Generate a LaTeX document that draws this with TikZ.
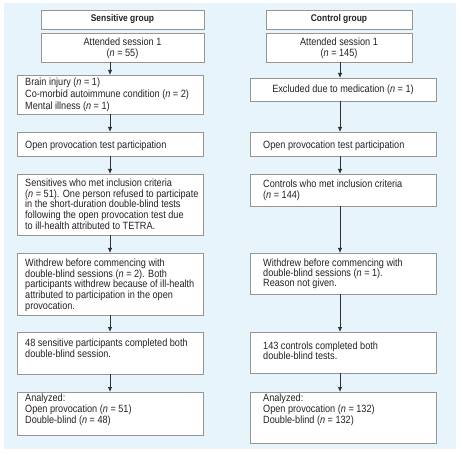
\documentclass[tikz,border=0pt]{standalone}
\usepackage{fontspec}
\setmainfont{Liberation Sans}[FakeStretch=0.87]
\usetikzlibrary{arrows.meta}
\definecolor{bgblue}{RGB}{231,244,252}
\definecolor{boxgray}{RGB}{150,150,150}
\definecolor{txtcol}{RGB}{35,35,35}
\definecolor{arrgray}{RGB}{50,50,50}
\newcommand\mystrut{\rule{0pt}{8pt}}
\begin{document}
\begin{tikzpicture}[x=1pt,y=-1pt,
  box/.style={draw=boxgray, line width=0.9pt, fill=white, anchor=north west, inner sep=0pt, outer sep=0pt},
  txtl/.style={anchor=north west, inner sep=0pt, align=left, text=txtcol, font=\fontsize{10.5}{10.8}\selectfont},
  txtc/.style={anchor=north, inner sep=0pt, align=center, text=txtcol, font=\fontsize{10.5}{10.8}\selectfont},
  hdr/.style={text=txtcol, font=\fontsize{9.7}{11}\selectfont\bfseries, inner sep=0pt},
  arr/.style={draw=arrgray, line width=0.8pt, -{Latex[length=5pt,width=4.5pt]}}
]
\useasboundingbox (0,0) rectangle (460,454);
\fill[bgblue] (4,3) rectangle (456,449);
\coordinate (lx) at (110,0);
\coordinate (rx) at (340,0);

% ---------- left column ----------
\node[box, minimum width=163pt, minimum height=19pt] (sgh) at (41,10) {};
\node[hdr] (sghT) at (sgh.center) {Sensitive group};
\node[box, minimum width=163pt, minimum height=29pt] (sa1) at (41,33) {};
\node[txtc] (sa1T) at (122.5,37.2) {\mystrut Attended session 1\\(\textit{n} = 55)};
\node[box, minimum width=186pt, minimum height=39pt] (sbi) at (17,75) {};
\node[txtl, font=\fontsize{10.5}{12}\selectfont] (sbiT) at (25,77.2) {\mystrut Brain injury (\textit{n} = 1)\\Co-morbid autoimmune condition (\textit{n} = 2)\\Mental illness (\textit{n} = 1)};
\node[box, minimum width=186pt, minimum height=24pt] (sop) at (17,132) {};
\node[txtl] (sopT) at (25,140.2) {\mystrut Open provocation test participation};
\node[box, minimum width=186pt, minimum height=61pt] (sin) at (17,174) {};
\node[txtl] (sinT) at (25,178.2) {\mystrut Sensitives who met inclusion criteria\\(\textit{n} = 51). One person refused to participate\\in the short-duration double-blind tests\\following the open provocation test due\\to ill-health attributed to TETRA.};
\node[box, minimum width=186pt, minimum height=62pt] (swd) at (17,253) {};
\node[txtl] (swdT) at (25,258.2) {\mystrut Withdrew before commencing with\\double-blind sessions (\textit{n} = 2). Both\\participants withdrew because of ill-health\\attributed to participation in the open\\provocation.};
\node[box, minimum width=186pt, minimum height=42pt] (s48) at (17,332) {};
\node[txtl, font=\fontsize{10.5}{11.5}\selectfont] (s48T) at (25,338.2) {\mystrut 48 sensitive participants completed both\\double-blind session.};
\node[box, minimum width=186pt, minimum height=43pt] (san) at (17,392) {};
\node[txtl] (sanT) at (25,393.2) {\mystrut Analyzed:\\Open provocation (\textit{n} = 51)\\Double-blind (\textit{n} = 48)};

\draw[arr] (sa1.south -| lx) -- (sbi.north -| lx);
\draw[arr] (sbi.south -| lx) -- (sop.north -| lx);
\draw[arr] (sop.south -| lx) -- (sin.north -| lx);
\draw[arr] (sin.south -| lx) -- (swd.north -| lx);
\draw[arr] (swd.south -| lx) -- (s48.north -| lx);
\draw[arr] (s48.south -| lx) -- (san.north -| lx);

% ---------- right column ----------
\node[box, minimum width=146pt, minimum height=19pt] (cgh) at (266,10) {};
\node[hdr] (cghT) at (cgh.center) {Control group};
\node[box, minimum width=146pt, minimum height=29pt] (ca1) at (266,33) {};
\node[txtc] (ca1T) at (339,37.2) {\mystrut Attended session 1\\(\textit{n} = 145)};
\node[box, minimum width=186pt, minimum height=23pt] (cex) at (250,78) {};
\node[txtc] (cexT) at (343,84.2) {\mystrut Excluded due to medication (\textit{n} = 1)};
\node[box, minimum width=186pt, minimum height=24pt] (cop) at (250,132) {};
\node[txtl] (copT) at (263,140.2) {\mystrut Open provocation test participation};
\node[box, minimum width=186pt, minimum height=32pt] (cin) at (250,174) {};
\node[txtl] (cinT) at (263,179.2) {\mystrut Controls who met inclusion criteria\\(\textit{n} = 144)};
\node[box, minimum width=186pt, minimum height=41pt] (cwd) at (250,253) {};
\node[txtl, font=\fontsize{10.5}{10.2}\selectfont] (cwdT) at (263,258.2) {\mystrut Withdrew before commencing with\\double-blind sessions (\textit{n} = 1).\\Reason not given.};
\node[box, minimum width=186pt, minimum height=41pt] (c143) at (250,332) {};
\node[txtl, font=\fontsize{10.5}{10}\selectfont] (c143T) at (263,341) {\mystrut 143 controls completed both\\double-blind tests.};
\node[box, minimum width=186pt, minimum height=51pt] (can) at (250,392) {};
\node[txtl] (canT) at (263,393.2) {\mystrut Analyzed:\\Open provocation (\textit{n} = 132)\\Double-blind (\textit{n} = 132)};

\draw[arr] (ca1.south -| rx) -- (cex.north -| rx);
\draw[arr] (cex.south -| rx) -- (cop.north -| rx);
\draw[arr] (cop.south -| rx) -- (cin.north -| rx);
\draw[arr] (cin.south -| rx) -- (cwd.north -| rx);
\draw[arr] (cwd.south -| rx) -- (c143.north -| rx);
\draw[arr] (c143.south -| rx) -- (can.north -| rx);
\end{tikzpicture}
\end{document}
